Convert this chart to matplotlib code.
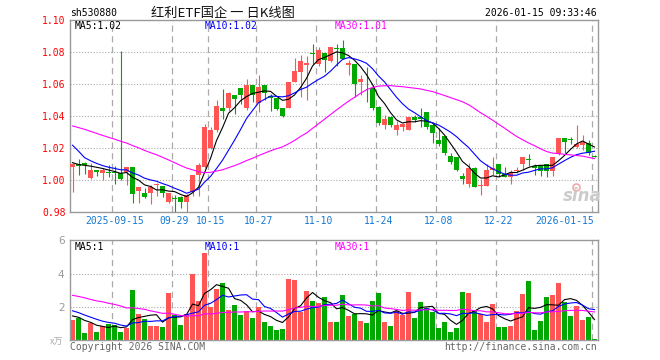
import numpy as np
import pandas as pd
import matplotlib
matplotlib.use("Agg")
import matplotlib.pyplot as plt

# ---- dati (sh530880, giornaliero) ----
opens = [1.0085, 1.0100, 1.0106, 1.0013, 1.0065, 1.0048, 1.0054, 1.0050, 1.0044, 1.0054,
         1.0085, 0.9935, 0.9919, 0.9923, 0.9969, 0.9967, 0.9867, 0.9885, 0.9896, 0.9867,
         0.9929, 1.0033, 1.0085, 1.0200, 1.0315, 1.0454, 1.0455, 1.0533, 1.0575, 1.0450,
         1.0596, 1.0483, 1.0596, 1.0529, 1.0512, 1.0452, 1.0450, 1.0617, 1.0680, 1.0718,
         1.0794, 1.0725, 1.0798, 1.0745, 1.0825, 1.0827, 1.0718, 1.0725, 1.0615, 1.0578,
         1.0575, 1.0456, 1.0346, 1.0396, 1.0317, 1.0333, 1.0317, 1.0398, 1.0394, 1.0427,
         1.0346, 1.0252, 1.0277, 1.0152, 1.0148, 1.0027, 0.9977, 1.0075, 0.9963, 0.9965,
         1.0065, 1.0102, 1.0040, 1.0021, 1.0058, 1.0102, 1.0127, 1.0092, 1.0096, 1.0102,
         1.0060, 1.0163, 1.0267, 1.0252, 1.0210, 1.0221, 1.0231, 1.0150]
highs = [1.0106, 1.0131, 1.0117, 1.0110, 1.0065, 1.0075, 1.0096, 1.0090, 1.0808, 1.0085,
         1.0085, 0.9960, 0.9950, 0.9970, 0.9985, 0.9967, 0.9923, 0.9910, 0.9900, 0.9917,
         1.0035, 1.0106, 1.0350, 1.0335, 1.0500, 1.0569, 1.0555, 1.0535, 1.0578, 1.0631,
         1.0598, 1.0658, 1.0598, 1.0540, 1.0512, 1.0452, 1.0617, 1.0765, 1.0783, 1.0780,
         1.0850, 1.0835, 1.0798, 1.0836, 1.0850, 1.0877, 1.0752, 1.0727, 1.0656, 1.0706,
         1.0596, 1.0465, 1.0408, 1.0400, 1.0370, 1.0360, 1.0398, 1.0408, 1.0450, 1.0427,
         1.0367, 1.0325, 1.0277, 1.0171, 1.0148, 1.0044, 1.0110, 1.0085, 1.0010, 1.0100,
         1.0146, 1.0102, 1.0085, 1.0065, 1.0085, 1.0148, 1.0165, 1.0102, 1.0096, 1.0102,
         1.0148, 1.0267, 1.0267, 1.0269, 1.0346, 1.0283, 1.0252, 1.0160]
lows = [0.9929, 1.0033, 1.0040, 1.0006, 1.0027, 1.0002, 1.0023, 0.9980, 1.0002, 0.9970,
        0.9860, 0.9860, 0.9887, 0.9852, 0.9902, 0.9898, 0.9856, 0.9804, 0.9825, 0.9804,
        0.9900, 0.9900, 1.0075, 1.0195, 1.0300, 1.0385, 1.0435, 1.0415, 1.0475, 1.0440,
        1.0490, 1.0430, 1.0505, 1.0435, 1.0440, 1.0398, 1.0450, 1.0617, 1.0520, 1.0500,
        1.0730, 1.0715, 1.0680, 1.0742, 1.0715, 1.0760, 1.0658, 1.0523, 1.0533, 1.0490,
        1.0440, 1.0346, 1.0322, 1.0333, 1.0282, 1.0310, 1.0315, 1.0367, 1.0335, 1.0320,
        1.0232, 1.0212, 1.0158, 1.0102, 1.0060, 0.9979, 0.9960, 0.9958, 0.9908, 0.9965,
        1.0033, 1.0023, 1.0020, 0.9980, 1.0046, 1.0062, 1.0087, 1.0033, 1.0027, 1.0023,
        1.0027, 1.0160, 1.0173, 1.0225, 1.0200, 1.0188, 1.0160, 1.0144]
closes = [1.0102, 1.0092, 1.0094, 1.0065, 1.0054, 1.0065, 1.0044, 1.0048, 1.0006, 1.0081,
          0.9912, 0.9960, 0.9898, 0.9956, 0.9971, 0.9919, 0.9919, 0.9883, 0.9867, 0.9906,
          1.0033, 1.0096, 1.0335, 1.0315, 1.0465, 1.0435, 1.0546, 1.0506, 1.0533, 1.0596,
          1.0533, 1.0585, 1.0548, 1.0517, 1.0445, 1.0405, 1.0617, 1.0683, 1.0748, 1.0735,
          1.0790, 1.0815, 1.0752, 1.0833, 1.0823, 1.0760, 1.0731, 1.0604, 1.0633, 1.0574,
          1.0450, 1.0360, 1.0382, 1.0348, 1.0348, 1.0354, 1.0398, 1.0380, 1.0383, 1.0335,
          1.0298, 1.0227, 1.0171, 1.0117, 1.0065, 1.0006, 1.0075, 0.9960, 0.9966, 1.0065,
          1.0075, 1.0040, 1.0023, 1.0044, 1.0061, 1.0148, 1.0125, 1.0075, 1.0060, 1.0060,
          1.0148, 1.0267, 1.0242, 1.0250, 1.0227, 1.0242, 1.0173, 1.0148]
# volume (x万)
volumes = [1.22, 1.32, 0.46, 1.02, 0.52, 0.86, 0.96, 0.92, 0.52, 0.76,
           3.04, 1.58, 1.28, 0.88, 0.88, 0.82, 2.86, 1.52, 0.94, 1.56,
           3.98, 2.36, 5.24, 2.02, 3.10, 3.44, 1.82, 2.12, 1.52, 1.76,
           1.34, 2.02, 1.12, 0.88, 0.62, 0.70, 3.70, 3.64, 1.68, 2.96,
           2.36, 2.26, 2.62, 1.10, 1.10, 2.72, 1.46, 1.56, 1.16, 1.04,
           2.36, 2.84, 1.10, 0.86, 1.76, 1.52, 2.90, 1.34, 2.30, 1.96,
           1.70, 0.74, 1.10, 0.50, 0.74, 2.90, 2.84, 1.76, 1.56, 1.10,
           2.18, 0.82, 0.82, 0.86, 1.76, 2.78, 3.56, 0.62, 1.16, 2.58,
           2.72, 3.44, 2.30, 1.46, 2.06, 1.22, 1.40, 0.06]
# sedute precedenti (fuori dal grafico), stimate dalle medie mobili all'inizio
prev_closes = [1.040, 1.042, 1.044, 1.043, 1.045, 1.041, 1.038, 1.040, 1.042, 1.039,
               1.037, 1.040, 1.038, 1.036, 1.039, 1.041, 1.040, 1.038, 1.040, 1.037,
               1.046, 1.050, 1.026, 1.022, 1.020, 1.015, 1.012, 1.009, 1.009]
prev_volumes = [3.4, 2.8, 4.1, 3.0, 2.6, 3.6, 2.9, 3.3, 4.4, 2.7,
                3.1, 2.5, 3.8, 2.9, 3.2, 2.6, 3.5, 3.0, 2.8, 3.1,
                2.4, 1.9, 2.3, 1.8, 2.0, 1.7, 1.4, 1.6, 1.38]

tick_idx = [7, 17, 23, 31, 41, 51, 61, 71, 87]
tick_labels = ["2025-09-15", "09-29", "10-15", "10-27", "11-10",
               "11-24", "12-08", "12-22", "2026-01-15"]

RED = "#ff5555"
GREEN = "#00a800"
GRID = "#aaaaaa"
MONO = "DejaVu Sans Mono"
W, H = 660, 360


def px(x, y):
    # pixel -> coordinate figura
    return x / W, 1 - y / H


def ma(prev, vals, n):
    s = pd.Series(list(prev) + list(vals))
    return s.rolling(n, min_periods=1).mean().values[len(prev):]


def main():
    n = len(closes)
    x = np.arange(n)
    o = np.array(opens)
    c = np.array(closes)
    up = c > o
    colors = [RED if u else GREEN for u in up]

    fig = plt.figure(figsize=(6.6, 3.6), dpi=100)
    ax = fig.add_axes([70 / W, 1 - 212.3 / H, 528 / W, 192 / H])
    axv = fig.add_axes([70 / W, 1 - 340.3 / H, 528 / W, 100 / H])

    xlim = (-0.42, n - 0.42)

    # === candele ===
    ax.vlines(x, lows, highs, colors=colors, linewidth=0.8, zorder=2)
    body_bot = np.minimum(o, c)
    body_h = np.maximum(np.abs(c - o), 0.0006)
    ax.bar(x, body_h, bottom=body_bot, width=0.83, color=colors, linewidth=0, zorder=3)

    ma5 = ma(prev_closes, closes, 5)
    ma10 = ma(prev_closes, closes, 10)
    ma30 = ma(prev_closes, closes, 30)
    ax.plot(x, ma5, color="black", lw=0.8, zorder=4)
    ax.plot(x, ma10, color="#0000ff", lw=0.8, zorder=4)
    ax.plot(x, ma30, color="#ff00ff", lw=0.8, zorder=4)

    ax.set_xlim(*xlim)
    ax.set_ylim(0.98, 1.10)
    for yv in [1.00, 1.02, 1.04, 1.06, 1.08]:
        ax.axhline(yv, color=GRID, lw=0.8, linestyle=(0, (1, 1.6)), zorder=1)
    for t in tick_idx:
        ax.axvline(t - 0.4, color=GRID, lw=0.9, linestyle=(0, (5, 3.5)), zorder=1)
        axv.axvline(t - 0.4, color=GRID, lw=0.9, linestyle=(0, (5, 3.5)), zorder=1)

    yt = [0.98, 1.00, 1.02, 1.04, 1.06, 1.08, 1.10]
    ax.set_yticks(yt)
    ax.set_yticklabels([f"{v:.2f}" for v in yt], family=MONO, fontsize=7)
    ax.tick_params(axis="y", length=0, pad=3, labelcolor="red")
    ax.set_xticks(tick_idx)
    lbls = ax.set_xticklabels(tick_labels, family=MONO, fontsize=7, color="#1478d4")
    lbls[-1].set_horizontalalignment("right")
    ax.tick_params(axis="x", length=0, pad=2.5)

    ax.text(5 / 528, 1 - 6 / 192, f"MA5:{ma5[-1]:.2f}", transform=ax.transAxes,
            family=MONO, fontsize=7, color="black", va="center")
    ax.text(135 / 528, 1 - 6 / 192, f"MA10:{ma10[-1]:.2f}", transform=ax.transAxes,
            family=MONO, fontsize=7, color="#0000ff", va="center")
    ax.text(265 / 528, 1 - 6 / 192, f"MA30:{ma30[-1]:.2f}", transform=ax.transAxes,
            family=MONO, fontsize=7, color="#ff00ff", va="center")

    # logo sina (filigrana)
    fig.text(*px(582, 196), "sina", fontsize=12, fontweight="bold", style="italic",
             color="#cccccc", ha="center", va="center", zorder=0)
    ax.plot([px(576, 187)[0]], [px(576, 187)[1]], "o", ms=5, mfc="none", mec="#f2a8a8",
            mew=1.2, transform=fig.transFigure, clip_on=False)

    # === volume ===
    axv.bar(x, volumes, width=0.83, color=colors, linewidth=0, zorder=2)
    vma5 = ma(prev_volumes, volumes, 5)
    vma10 = ma(prev_volumes, volumes, 10)
    vma30 = ma(prev_volumes, volumes, 30)
    axv.plot(x, vma5, color="black", lw=0.8, zorder=3)
    axv.plot(x, vma10, color="#0000ff", lw=0.8, zorder=3)
    axv.plot(x, vma30, color="#ff00ff", lw=0.8, zorder=3)
    axv.set_xlim(*xlim)
    axv.set_ylim(0, 6)
    for yv in [2, 4]:
        axv.axhline(yv, color=GRID, lw=0.8, linestyle=(0, (1, 1.6)), zorder=1)
    axv.set_xticks([])
    axv.set_yticks([2, 4, 6])
    axv.set_yticklabels(["2", "4", "6"], fontsize=7.5, color="#999999")
    axv.tick_params(axis="y", length=0, pad=4)

    axv.text(5 / 528, 1 - 6.5 / 100, f"MA5:{int(vma5[-1])}", transform=axv.transAxes,
             family=MONO, fontsize=7, color="black", va="center")
    axv.text(135 / 528, 1 - 6.5 / 100, f"MA10:{int(vma10[-1])}", transform=axv.transAxes,
             family=MONO, fontsize=7, color="#0000ff", va="center")
    axv.text(265 / 528, 1 - 6.5 / 100, f"MA30:{int(vma30[-1])}", transform=axv.transAxes,
             family=MONO, fontsize=7, color="#ff00ff", va="center")

    for a in (ax, axv):
        for s in a.spines.values():
            s.set_color("#999999")
            s.set_linewidth(1.0)

    # === testi in alto / in basso ===
    fig.text(*px(70, 13.5), "sh530880", family=MONO, fontsize=7, va="center")
    fig.text(*px(223, 13), "红利ETF国企 一 日K线图", family=["Noto Sans CJK SC", "DejaVu Sans"],
             fontsize=9.5, ha="center", va="center", color="#111111")
    fig.text(*px(597, 13), "2026-01-15 09:33:46", family=MONO, fontsize=7,
             ha="right", va="center")
    fig.text(*px(63, 342), "x万", family=["Noto Sans CJK SC", "DejaVu Sans"],
             fontsize=6.5, style="italic", ha="right", va="center", color="#aaaaaa")
    fig.text(*px(70, 346.5), "Copyright 2026 SINA.COM", family=MONO, fontsize=7,
             va="center", color="#666666")
    fig.text(*px(597, 346.5), "http://finance.sina.com.cn", family=MONO, fontsize=7,
             ha="right", va="center", color="#666666")

    fig.savefig("out.png", dpi=100)


if __name__ == "__main__":
    main()
